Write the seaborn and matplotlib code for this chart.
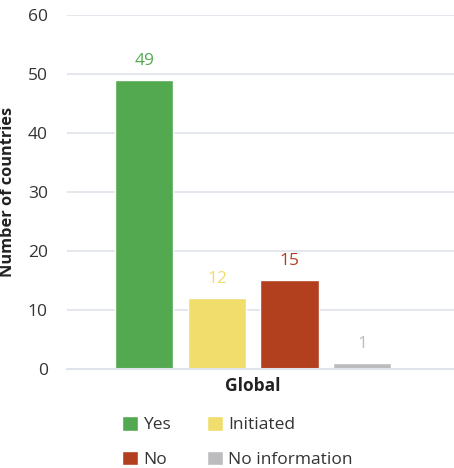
import matplotlib
matplotlib.use("Agg")
import matplotlib.pyplot as plt
import seaborn as sns
import pandas as pd
from matplotlib.patches import Patch

categories = ["Global"]
statuses = ["Yes", "Initiated", "No", "No information"]
values = [49, 12, 15, 1]
colors = ["#53a94f", "#f0dd6c", "#b2401f", "#bcbcbf"]

df = pd.DataFrame({"region": categories * len(statuses), "status": statuses, "count": values})

sns.set_theme(style="white")
plt.rcParams["font.family"] = ["Open Sans", "DejaVu Sans"]

fig = plt.figure(figsize=(4.54, 4.68), dpi=100)
ax = fig.add_axes([0.148, 0.212, 0.852, 0.756])

sns.barplot(data=df, x="region", y="count", hue="status", hue_order=statuses,
            palette=colors, width=0.75, gap=0.2, ax=ax, legend=False, saturation=1)

for cont, c in zip(ax.containers, colors):
    ax.bar_label(cont, padding=8, color=c, fontsize=12.5)

ax.set_ylim(0, 60)
ax.set_yticks([0, 10, 20, 30, 40, 50, 60])
ax.set_xlim(-0.481, 0.519)
ax.yaxis.grid(True, color="#dfe3eb", linewidth=1.2)
ax.set_axisbelow(True)
for s in ["top", "right", "left"]:
    ax.spines[s].set_visible(False)
ax.spines["bottom"].set_color("#dfe3eb")
ax.spines["bottom"].set_linewidth(1.5)
ax.tick_params(axis="both", length=0, labelsize=12.5, colors="#333333")
ax.tick_params(axis="y", pad=14)
ax.tick_params(axis="x", pad=6)
ax.set_xlabel("")
ax.set_ylabel("Number of countries", fontsize=11.8, fontweight="bold", color="#222222")
ax.yaxis.set_label_coords(-0.132, 0.5)
for lbl in ax.get_xticklabels():
    lbl.set_fontweight("bold")
    lbl.set_color("#222222")

order = [0, 2, 1, 3]
handles = [Patch(facecolor=colors[i], label=statuses[i]) for i in order]
fig.legend(handles=handles, labels=[statuses[i] for i in order], ncol=2, loc="lower left",
           bbox_to_anchor=(0.246, -0.022), frameon=False, fontsize=12.5, borderpad=0.1,
           handlelength=0.9, handleheight=0.9, handletextpad=0.3,
           columnspacing=2.1, labelspacing=1.0, labelcolor="#333333")

fig.savefig("out.png", dpi=100)
